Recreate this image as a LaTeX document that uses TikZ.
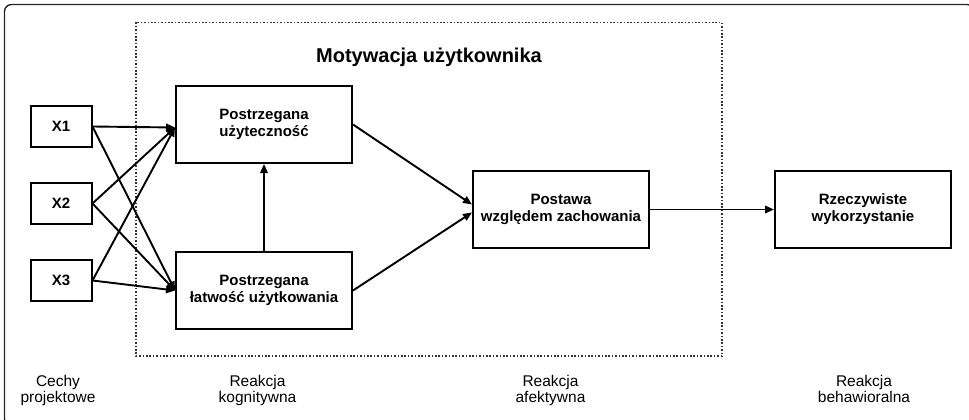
\documentclass[tikz,border=0pt]{standalone}
\usepackage{fontspec}
\setmainfont{Liberation Sans}
\usetikzlibrary{arrows.meta, positioning}
\tikzset{
  box/.style = {
    rectangle, draw=black, line width=2pt, fill=white,
    minimum width=176pt, minimum height=77pt, inner sep=0pt,
    align=center, font=\fontsize{15}{17}\selectfont\bfseries
  },
  xbox/.style = {
    box, minimum width=61pt, minimum height=41pt
  },
  lbl/.style = {
    anchor=north, inner sep=0pt, align=center,
    font=\fontsize{15.5}{16.5}\selectfont
  },
  grp/.style = {line width=1.5pt, black!80, dash pattern=on 1.6pt off 1.8pt},
  arr/.style = {-{Triangle[length=9pt, width=7.5pt]}, line width=1.9pt, black}
}
\begin{document}
\begin{tikzpicture}[x=1pt, y=-1pt, node distance=34pt]
\useasboundingbox (0,0) rectangle (969,420);
\clip (0,0) rectangle (969,420);

%% frame and group
\draw[line width=1.4pt, black!85, rounded corners=7pt] (4.5,4.5) rectangle (974,426);
\draw[grp] (136,22.5) rectangle (722,356);
\node[font=\fontsize{20}{24}\selectfont\bfseries] (title) at (429,57)
      {Motywacja użytkownika};

%% design features
\node[xbox] (x1) at (61,126.5) {X1};
\node[xbox, below=of x1] (x2) {X2};
\node[xbox, below=of x2] (x3) {X3};

%% model boxes
\node[box] (pu) at (264,124.5) {Postrzegana\\użyteczność};
\node[box] (peou) at (264,290.5) {Postrzegana\\łatwość użytkowania};
\node[box] (att) at (561,209.5) {Postawa\\względem zachowania};
\node[box, right=124pt of att] (use) {Rzeczywiste\\wykorzystanie};

%% bottom labels
\node[lbl] (l1) at (58,375) {Cechy\\projektowe};
\node[lbl] (l2) at (257.5,375) {Reakcja\\kognitywna};
\node[lbl] (l3) at (550.5,375) {Reakcja\\afektywna};
\node[lbl] (l4) at (864,375) {Reakcja\\behawioralna};

%% arrows
\foreach \x in {x1, x2, x3} {
  \draw[arr] (\x.east) -- ([yshift=-3pt]pu.west);
  \draw[arr] (\x.east) -- (peou.west);
}
\draw[arr] (peou) -- (pu);
\draw[arr] (pu.east) -- ([yshift=5pt]att.west);
\draw[arr] (peou.east) -- ([yshift=-3pt]att.west);
\draw[arr] (att) -- (use);

\end{tikzpicture}
\end{document}
